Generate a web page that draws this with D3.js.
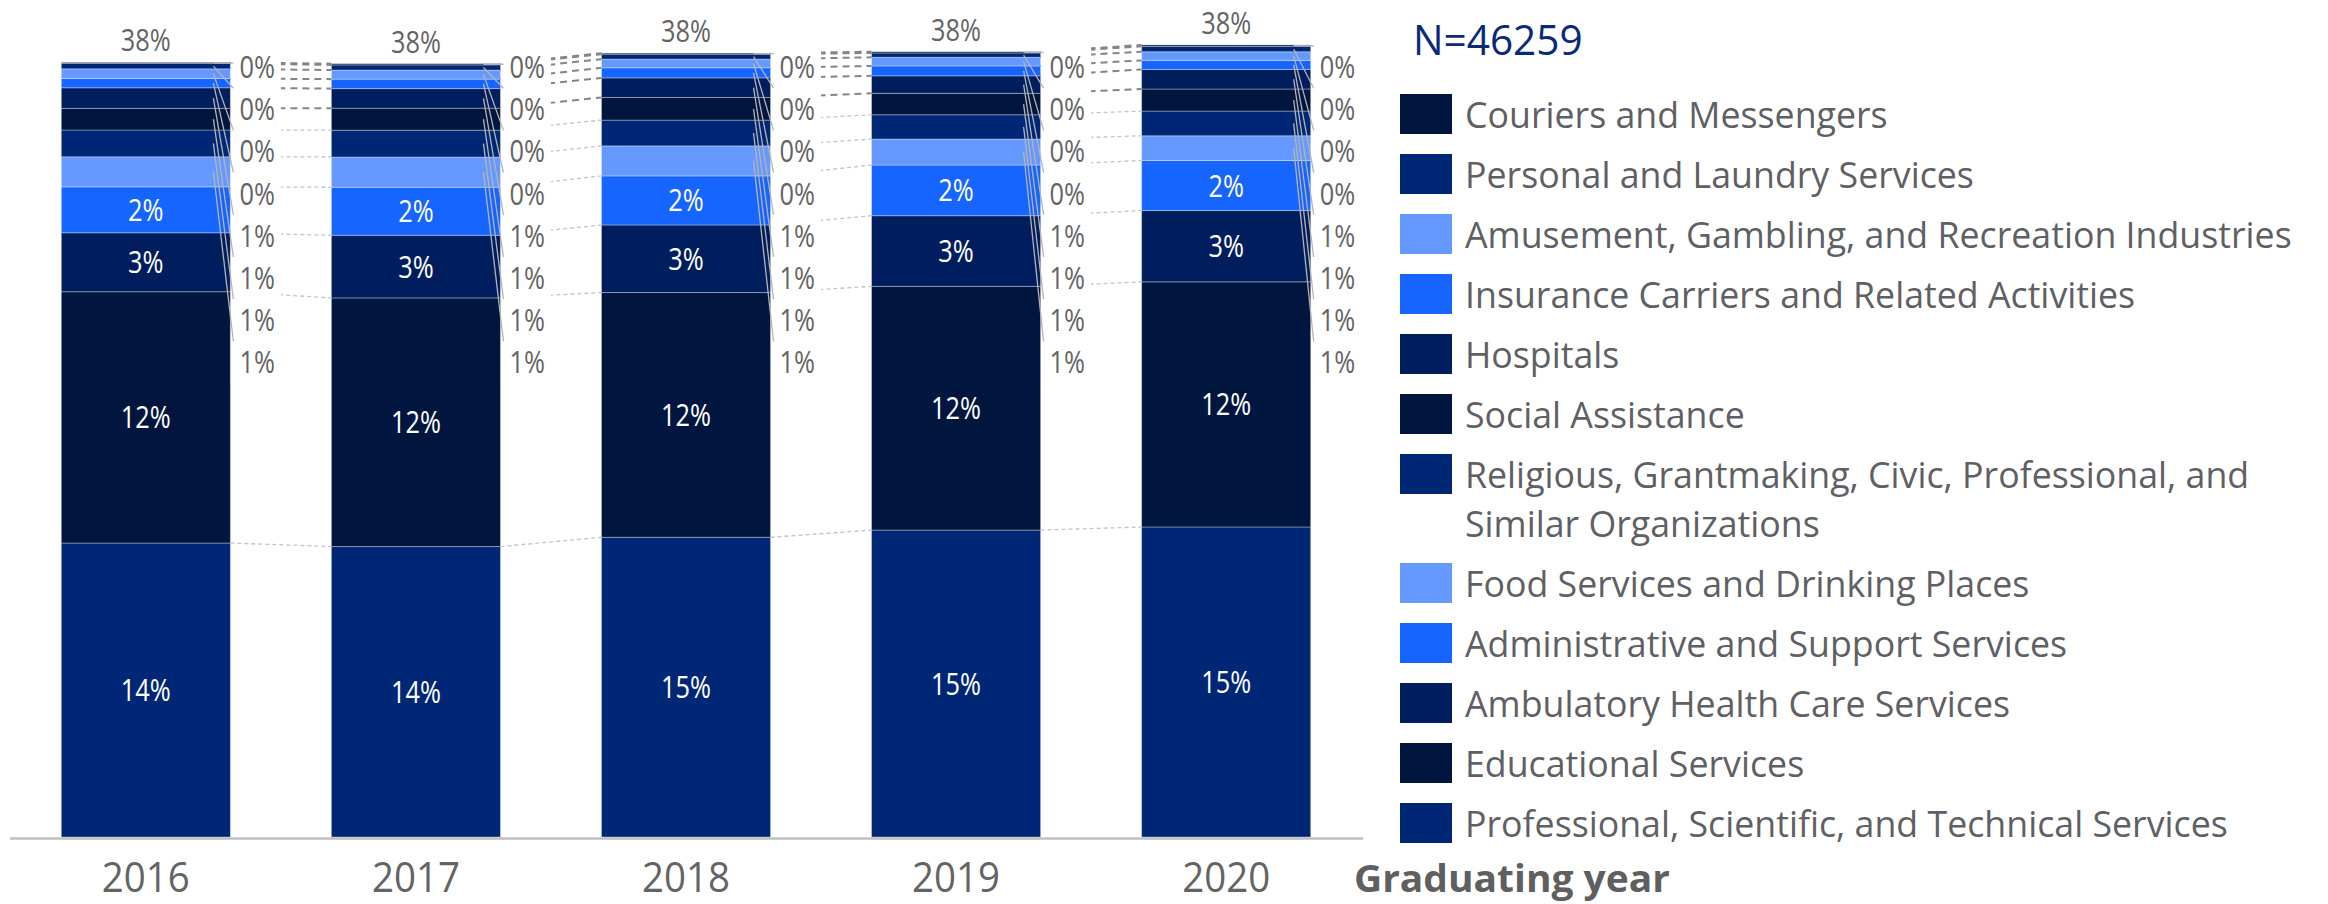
<!DOCTYPE html>
<html><head><meta charset="utf-8">
<script src="https://cdn.jsdelivr.net/npm/d3@7"></script>
<style>html,body{margin:0;padding:0;background:#fff;} svg{display:block;}</style>
</head><body>
<svg id="chart" width="2328" height="904"></svg>
<script>
// ---------------- DATA ----------------
const years = ["2016", "2017", "2018", "2019", "2020"];
const categories = [
  "Couriers and Messengers",
  "Personal and Laundry Services",
  "Amusement, Gambling, and Recreation Industries",
  "Insurance Carriers and Related Activities",
  "Hospitals",
  "Social Assistance",
  "Religious, Grantmaking, Civic, Professional, and Similar Organizations",
  "Food Services and Drinking Places",
  "Administrative and Support Services",
  "Ambulatory Health Care Services",
  "Educational Services",
  "Professional, Scientific, and Technical Services"
];
const couriers     = [0.0005, 0.0006, 0.0005, 0.0006, 0.0007];
const personal     = [0.0026, 0.0025, 0.0024, 0.0021, 0.0026];
const amusement    = [0.0047, 0.0044, 0.0042, 0.0042, 0.0042];
const insurance    = [0.0045, 0.0046, 0.0049, 0.0048, 0.0044];
const hospitals    = [0.0100, 0.0095, 0.0095, 0.0085, 0.0095];
const social       = [0.0105, 0.0107, 0.0110, 0.0104, 0.0107];
const religious    = [0.0130, 0.0130, 0.0125, 0.0118, 0.0120];
const food         = [0.0146, 0.0147, 0.0146, 0.0126, 0.0120];
const admin        = [0.0223, 0.0233, 0.0238, 0.0246, 0.0243];
const ambulatory   = [0.0286, 0.0304, 0.0328, 0.0343, 0.0346];
const educational  = [0.1220, 0.1207, 0.1188, 0.1183, 0.1190];
const professional = [0.1427, 0.1410, 0.1455, 0.1490, 0.1505];
const seriesValues = [couriers, personal, amusement, insurance, hospitals, social,
                      religious, food, admin, ambulatory, educational, professional];
const sampleSize = 46259;
const xAxisTitle = "Graduating year";

// ---------------- STYLE / LAYOUT ----------------
const palette = ["#002776", "#00163F", "#001E5E", "#1665FF", "#6699FF"]; // cycles from the bottom series
const FONT = "'Open Sans', 'DejaVu Sans', sans-serif";
const GREY = "#646464";
const W = 2328, H = 904;
const baseY = 837;
const pxPerUnit = 2060; // pixels per 100%

const svg = d3.select("#chart");
svg.append("rect").attr("width", W).attr("height", H).attr("fill", "#fff");

function measure(str, size, weight) {
  const t = svg.append("text").attr("font-family", FONT).attr("font-size", size)
    .attr("font-weight", weight || 400).text(str);
  const w = t.node().getComputedTextLength();
  t.remove();
  return w;
}
const clampS = s => Math.max(0.6, Math.min(1.15, s));
const SX_LEG  = clampS(827 / measure("Amusement, Gambling, and Recreation Industries", 37, 400));
const SX_NUM  = clampS(50 / measure("38%", 31, 400));
const SX_YEAR = clampS(88 / measure("2016", 42, 400));
const SX_TTL  = clampS(316 / measure(xAxisTitle, 37, 700));

function addText(parent, px, py, str, o) {
  return parent.append("text")
    .attr("transform", `translate(${px},${py}) scale(${o.sx},1)`)
    .attr("text-anchor", o.anchor || "start")
    .attr("font-family", FONT)
    .attr("font-size", o.size)
    .attr("font-weight", o.weight || 400)
    .attr("fill", o.fill)
    .text(str);
}

// ---------------- SCALES ----------------
const x = d3.scaleBand().domain(years).range([10, 1362]).paddingInner(0.374).paddingOuter(0.19);
const y = d3.scaleLinear().domain([0, 0.40]).range([baseY, baseY - 0.40 * pxPerUnit]);
const fmt = d3.format(".0%");

// ---------------- STACK ----------------
const table = years.map((yr, i) => {
  const row = { year: yr };
  categories.forEach((c, k) => { row[c] = seriesValues[k][i]; });
  return row;
});
const keysBottomUp = categories.slice().reverse();
const stacked = d3.stack().keys(keysBottomUp)(table);
const totals = table.map(r => d3.sum(keysBottomUp, k => r[k]));
const bw = x.bandwidth();

// Bars
const gBars = svg.append("g");
stacked.forEach((s, j) => {
  gBars.selectAll(null).data(s).join("rect")
    .attr("x", (d, i) => x(years[i]))
    .attr("width", bw)
    .attr("y", d => y(d[1]))
    .attr("height", d => y(d[0]) - y(d[1]))
    .attr("fill", palette[j % 5])
    .attr("stroke", "rgba(255,255,255,0.32)")
    .attr("stroke-width", 1);
});

// Series lines (dashed connectors between bars)
const gLines = svg.append("g");
stacked.forEach((s, j) => {
  const dark = j >= 6;
  for (let i = 0; i < years.length - 1; i++) {
    gLines.append("line")
      .attr("x1", x(years[i]) + bw).attr("y1", y(s[i][1]))
      .attr("x2", x(years[i + 1])).attr("y2", y(s[i + 1][1]))
      .attr("stroke", dark ? "#858585" : "#c4c4c4")
      .attr("stroke-width", dark ? 2 : 1.3)
      .attr("stroke-dasharray", dark ? "7,5" : "4,3");
  }
});

// Axis baseline
svg.append("line").attr("x1", 10).attr("x2", 1363).attr("y1", baseY + 1.5).attr("y2", baseY + 1.5)
  .attr("stroke", "#bfbfbf").attr("stroke-width", 2.5);

// Outside labels (top 8 series) with white boxes and leader lines
const LABEL_Y0 = 67, LABEL_STEP = 42.2, LABEL_HALF = 21;
const outside = d3.range(4, 12); // bottom-up indices labelled outside
const gBoxes = svg.append("g"), gLeaders = svg.append("g"), gTxt = svg.append("g");
years.forEach((yr, i) => {
  const right = x(yr) + bw;
  gBoxes.append("rect")
    .attr("x", right + 0.5).attr("width", 50)
    .attr("y", LABEL_Y0 - LABEL_HALF - 1)
    .attr("height", LABEL_STEP * 7 + 2 * LABEL_HALF + 2)
    .attr("fill", "#fff");
  outside.forEach(j => {
    const r = 11 - j;
    const cy = LABEL_Y0 + r * LABEL_STEP;
    const d = stacked[j][i];
    const ay = (y(d[0]) + y(d[1])) / 2;
    const ey = Math.max(cy - LABEL_HALF, Math.min(cy + LABEL_HALF, ay));
    gLeaders.append("line")
      .attr("x1", right - 17).attr("y1", ay)
      .attr("x2", right + 3).attr("y2", ey)
      .attr("stroke", "#b4b4b4").attr("stroke-width", 1.3);
    addText(gTxt, right + 9, cy + 11, fmt(d[1] - d[0]), { size: 31, sx: SX_NUM, fill: GREY });
  });
  // inside labels (bottom 4 series)
  d3.range(0, 4).forEach(j => {
    const d = stacked[j][i];
    const cy = (y(d[0]) + y(d[1])) / 2;
    addText(gTxt, x(yr) + bw / 2, cy + 11, fmt(d[1] - d[0]),
      { size: 31, sx: SX_NUM, fill: "#ffffff", anchor: "middle" });
  });
  // total label
  addText(gTxt, x(yr) + bw / 2, y(totals[i]) - 11, fmt(totals[i]),
    { size: 31, sx: SX_NUM, fill: GREY, anchor: "middle" });
  // year tick label
  addText(gTxt, x(yr) + bw / 2, 892, yr, { size: 42, sx: SX_YEAR, fill: GREY, anchor: "middle" });
});

// Axis title
addText(svg, 1354, 892, xAxisTitle, { size: 37, sx: SX_TTL, fill: "#5f5f5f", weight: 700 });

// ---------------- LEGEND ----------------
const gLeg = svg.append("g");
addText(gLeg, 1413, 55, "N=" + sampleSize, { size: 42, sx: SX_LEG, fill: "#0A2A78" });
const LEG_X = 1400, LEG_TOP = 94, LEG_STEP = 60, LEG_LINE = 49, LEG_MAXW = 850;
function wrapLabel(str) {
  const words = str.split(" ");
  const lines = [];
  let cur = "";
  words.forEach(w => {
    const test = cur ? cur + " " + w : w;
    if (measure(test, 37, 400) * SX_LEG > LEG_MAXW && cur) { lines.push(cur); cur = w; }
    else cur = test;
  });
  if (cur) lines.push(cur);
  return lines;
}
let legRowTop = LEG_TOP;
categories.forEach((c, k) => {
  const j = 11 - k;
  gLeg.append("rect").attr("x", LEG_X).attr("y", legRowTop).attr("width", 52).attr("height", 40)
    .attr("fill", palette[j % 5]);
  const lines = wrapLabel(c);
  lines.forEach((ln, li) => {
    addText(gLeg, LEG_X + 65, legRowTop + 34 + li * LEG_LINE, ln, { size: 37, sx: SX_LEG, fill: "#5f6064" });
  });
  legRowTop += LEG_STEP + (lines.length - 1) * LEG_LINE;
});
</script>
</body></html>
